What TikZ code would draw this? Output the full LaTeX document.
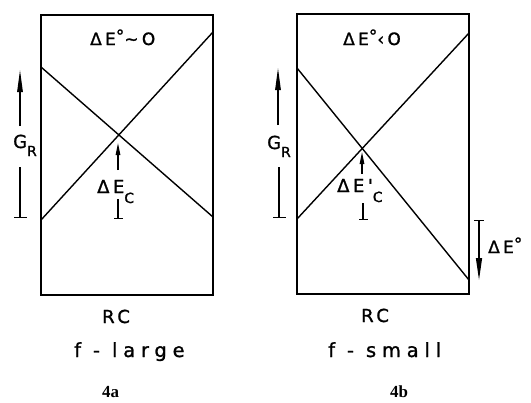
\documentclass[tikz,border=0pt]{standalone}
\usepackage{fontspec}
\setmainfont{DejaVu Sans}
\newfontfamily\plotfont[LetterSpace=20,FakeBold=1.2]{DejaVu Sans}
\newfontfamily\wideplotfont[LetterSpace=30,FakeBold=1.2]{DejaVu Sans}
\newfontfamily\numfont{Liberation Serif}
\usetikzlibrary{arrows.meta}
\tikzset{
  frame/.style={draw, line width=1.5bp},
  curve/.style={draw, line width=1.4bp},
  lbl/.style={inner sep=0pt, anchor=base west, font=\plotfont\fontsize{17}{17}\selectfont},
  biglbl/.style={inner sep=0pt, anchor=base west, font=\wideplotfont\fontsize{19.5}{19.5}\selectfont},
  numlbl/.style={inner sep=0pt, anchor=base west, font=\numfont\bfseries\fontsize{17}{17}\selectfont},
  uparrow/.style={line width=1.2bp, -{Triangle[length=22bp,width=5.5bp]}},
  smallarrow/.style={line width=1.2bp, -{Triangle[length=12bp,width=4.5bp]}},
  barline/.style={line width=1.2bp, -{Bar[width=13bp,line width=1.4bp]}},
  smallbar/.style={line width=1.2bp, -{Bar[width=9bp,line width=1.4bp]}},
  downarrow/.style={line width=1.2bp, {Bar[width=10bp,line width=1.4bp]}-{Triangle[length=22bp,width=6bp]}}
}
\begin{document}
\begin{tikzpicture}[x=1bp,y=-1bp]
\useasboundingbox (0,0) rectangle (531,402);

% ---------- panel a ----------
\coordinate (A-tl) at (41,15);
\coordinate (A-br) at (213,295);
\draw[frame] (A-tl) rectangle (A-br);
\coordinate (a1) at (41,67);
\coordinate (a2) at (213,217);
\coordinate (a3) at (41,220);
\coordinate (a4) at (213,32);
\draw[curve] (a1) -- (a2);
\draw[curve] (a3) -- (a4);

\node[lbl] (topA) at (90,45) {ΔE\raisebox{3bp}{°}∼O};

% G_R left
\node[lbl, font=\plotfont\fontsize{18}{18}\selectfont] (GRA) at (13,148) {G\raisebox{-8bp}{\fontsize{14}{14}\selectfont R}};
\coordinate (gaA1) at (20,126);
\coordinate (gaA2) at (20,70);
\draw[uparrow] (gaA1) -- (gaA2);
\coordinate (gbA1) at (20,167);
\coordinate (gbA2) at (20,218);
\draw[barline] (gbA1) -- (gbA2);

% Delta E_C left
\coordinate (ecA1) at (118,170);
\coordinate (ecA2) at (118,143);
\draw[smallarrow] (ecA1) -- (ecA2);
\node[lbl, font=\plotfont\fontsize{18}{18}\selectfont] (ECA) at (97,193) {ΔE\raisebox{-10bp}{\fontsize{14}{14}\selectfont C}};
\coordinate (tcA1) at (118,199);
\coordinate (tcA2) at (118,219);
\draw[smallbar] (tcA1) -- (tcA2);

\node[lbl, font=\plotfont\fontsize{18}{18}\selectfont] (RCA) at (102,323) {RC};
\node[biglbl] (FA) at (74,357) {f - large};
\node[numlbl] (NA) at (102,397) {4a};

% ---------- panel b ----------
\coordinate (B-tl) at (297,14);
\coordinate (B-br) at (469,294);
\draw[frame] (B-tl) rectangle (B-br);
\coordinate (b1) at (297,68);
\coordinate (b2) at (469,280);
\coordinate (b3) at (297,219);
\coordinate (b4) at (469,33);
\draw[curve] (b1) -- (b2);
\draw[curve] (b3) -- (b4);

\node[lbl] (topB) at (343,45) {ΔE\raisebox{3bp}{°}‹O};

% G_R right
\node[lbl, font=\plotfont\fontsize{18}{18}\selectfont] (GRB) at (267,149) {G\raisebox{-8bp}{\fontsize{14}{14}\selectfont R}};
\coordinate (gaB1) at (278,125);
\coordinate (gaB2) at (278,68);
\draw[uparrow] (gaB1) -- (gaB2);
\coordinate (gbB1) at (279,167);
\coordinate (gbB2) at (279,218);
\draw[barline] (gbB1) -- (gbB2);

% Delta E'_C right
\coordinate (ecB1) at (362,174);
\coordinate (ecB2) at (362,152);
\draw[smallarrow] (ecB1) -- (ecB2);
\node[lbl, font=\plotfont\fontsize{18}{18}\selectfont] (ECB) at (337,192) {ΔE'\raisebox{-10bp}{\fontsize{14}{14}\selectfont C}};
\coordinate (tcB1) at (363,203);
\coordinate (tcB2) at (363,220);
\draw[smallbar] (tcB1) -- (tcB2);

% Delta E0 right
\coordinate (deB1) at (479,220);
\coordinate (deB2) at (479,280);
\draw[downarrow] (deB1) -- (deB2);
\node[lbl] (DEB) at (488,253) {ΔE\raisebox{3bp}{°}};

\node[lbl, font=\plotfont\fontsize{18}{18}\selectfont] (RCB) at (361,322) {RC};
\node[biglbl] (FB) at (328,357) {f - small};
\node[numlbl] (NB) at (390,397) {4b};
\end{tikzpicture}
\end{document}
